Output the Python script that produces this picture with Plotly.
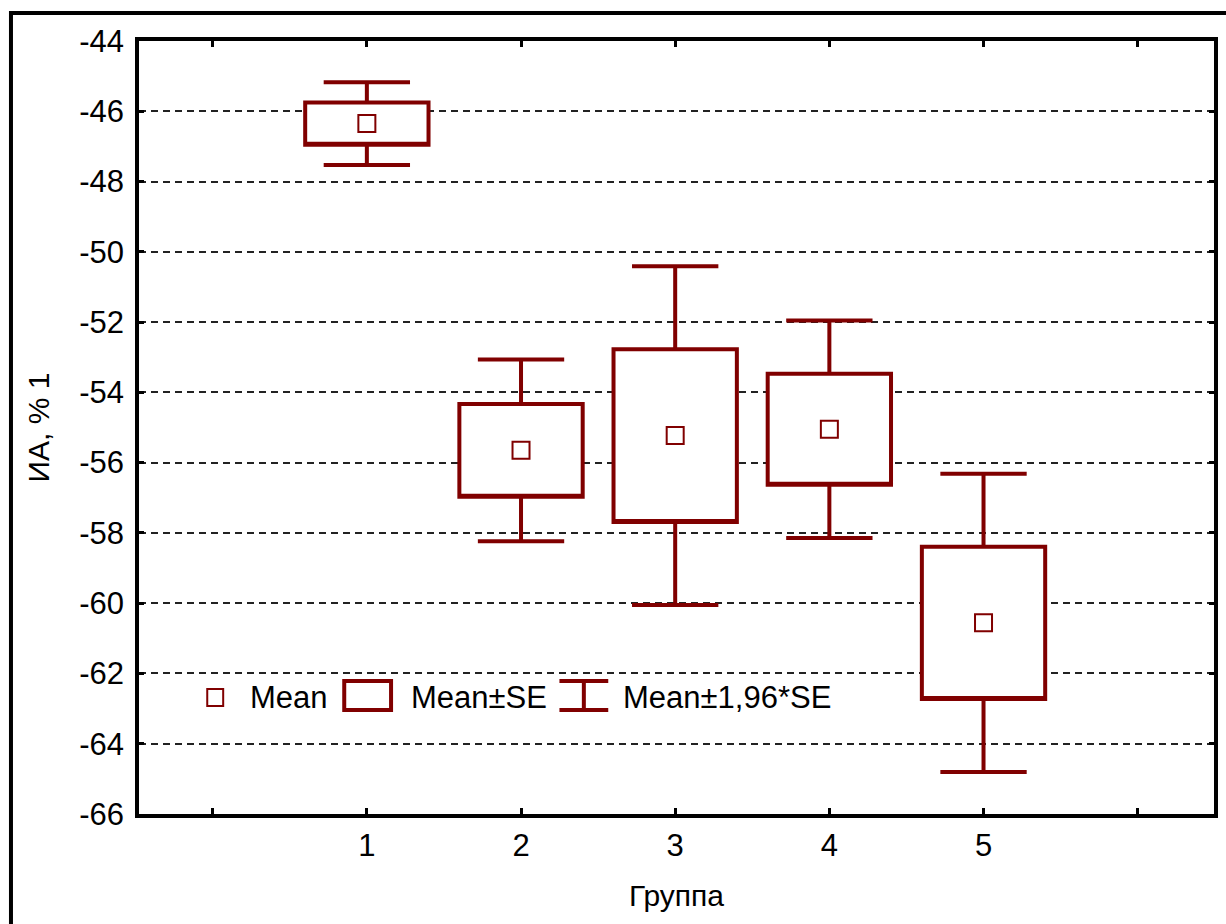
import plotly.graph_objects as go

# Group summary statistics: mean and standard error of ИА, % 1
groups = [1, 2, 3, 4, 5]
group_labels = ["1", "2", "3", "4", "5"]
means = [-46.35, -55.65, -55.23, -55.05, -60.56]
se = [0.60, 1.32, 2.46, 1.58, 2.165]

y_ticks = [-44, -46, -48, -50, -52, -54, -56, -58, -60, -62, -64, -66]
y_ticktext = ["-44", "-46", "-48", "-50", "-52", "-54", "-56", "-58", "-60", "-62", "-64", "-66"]
x_ticks = [0, 1, 2, 3, 4, 5, 6]
x_ticktext = [""] + group_labels + [""]

RED = "#800000"
FONT = "Liberation Sans, Arial, sans-serif"

W, H = 1226, 924
L, R, T, B = 139, 8, 41, 110
PW, PH = W - L - R, H - T - B


def px(x):
    return (x - L) / PW


def py(y):
    return 1 - (y - T) / PH


lo_se = [m - s for m, s in zip(means, se)]
hi_se = [m + s for m, s in zip(means, se)]
lo_ci = [m - 1.96 * s for m, s in zip(means, se)]
hi_ci = [m + 1.96 * s for m, s in zip(means, se)]

fig = go.Figure()

# Mean±SE box with Mean±1,96*SE whiskers
fig.add_trace(go.Box(
    x=groups,
    q1=lo_se,
    median=lo_se,
    q3=hi_se,
    lowerfence=lo_ci,
    upperfence=hi_ci,
    width=0.8,
    whiskerwidth=0.7,
    fillcolor="white",
    line=dict(color=RED, width=4),
    boxpoints=False,
    hoverinfo="skip",
    showlegend=False,
))

# Means
fig.add_trace(go.Scatter(
    x=groups,
    y=means,
    mode="markers",
    marker=dict(symbol="square-open", size=17, color=RED, line=dict(color=RED, width=2)),
    hoverinfo="skip",
    showlegend=False,
))

shapes = []
annotations = []

# Outer frame of the graph window
shapes.append(dict(type="rect", xref="paper", yref="paper",
                   x0=px(10.5), x1=px(1300), y0=py(1000), y1=py(13),
                   line=dict(color="black", width=4), fillcolor="rgba(0,0,0,0)",
                   layer="above"))

# Legend drawn inside the plotting area
shapes.append(dict(type="rect", xref="paper", yref="paper",
                   x0=px(207.5), x1=px(223.5), y0=py(706), y1=py(689),
                   line=dict(color=RED, width=2), fillcolor="white"))
shapes.append(dict(type="rect", xref="paper", yref="paper",
                   x0=px(345), x1=px(392), y0=py(710), y1=py(681),
                   line=dict(color=RED, width=4), fillcolor="white"))
for y0 in (681, 710):
    shapes.append(dict(type="line", xref="paper", yref="paper",
                       x0=px(561), x1=px(610), y0=py(y0), y1=py(y0),
                       line=dict(color=RED, width=4)))
shapes.append(dict(type="line", xref="paper", yref="paper",
                   x0=px(585.5), x1=px(585.5), y0=py(681), y1=py(710),
                   line=dict(color=RED, width=4)))

for text, x in (("Mean", 248), ("Mean±SE", 410), ("Mean±1,96*SE", 623)):
    annotations.append(dict(text=text, xref="paper", yref="paper",
                            x=px(x), y=py(697), xanchor="left", yanchor="middle",
                            showarrow=False, font=dict(family=FONT, size=31, color="black")))

fig.update_layout(
    width=W, height=H,
    margin=dict(l=L, r=R, t=T, b=B, pad=0),
    paper_bgcolor="white",
    plot_bgcolor="white",
    font=dict(family=FONT, size=31, color="black"),
    shapes=shapes,
    annotations=annotations,
    showlegend=False,
    xaxis=dict(
        range=[-0.478, 6.495],
        tickmode="array", tickvals=x_ticks, ticktext=x_ticktext,
        ticks="inside", ticklen=6, tickwidth=3, tickcolor="black",
        showline=True, linecolor="black", linewidth=3.5, mirror="ticks",
        showgrid=False, zeroline=False,
        ticklabelstandoff=1,
        tickfont=dict(family=FONT, size=31, color="black"),
        title=dict(text="Группа", font=dict(family=FONT, size=30, color="black"), standoff=24),
    ),
    yaxis=dict(
        range=[-66, -44],
        tickmode="array", tickvals=y_ticks, ticktext=y_ticktext,
        ticks="inside", ticklen=5, tickwidth=3, tickcolor="black",
        showline=True, linecolor="black", linewidth=3.5, mirror="ticks",
        showgrid=True, gridcolor="#222222", gridwidth=1.5, griddash="7px,5px",
        zeroline=False,
        ticklabelstandoff=5,
        tickfont=dict(family=FONT, size=31, color="black"),
        title=dict(text="ИА, % 1", font=dict(family=FONT, size=30, color="black"), standoff=22),
    ),
)

fig.write_html("out.html")
